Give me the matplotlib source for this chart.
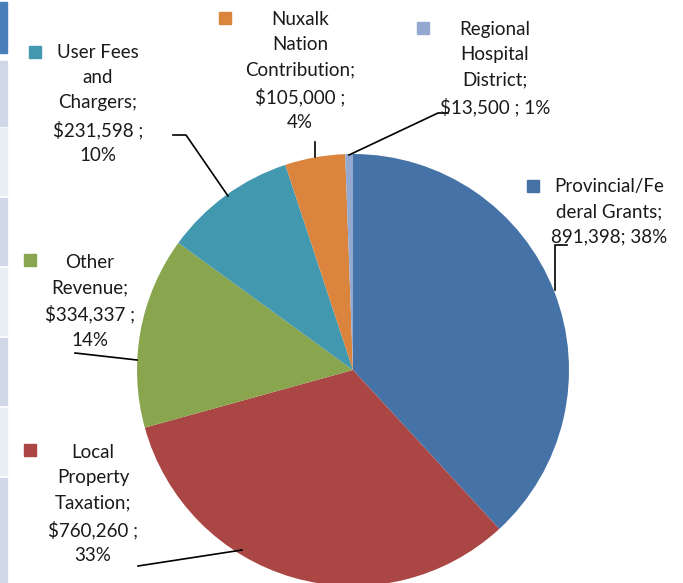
import matplotlib.pyplot as plt
from matplotlib.patches import Rectangle

# revenue sources (clockwise from top)
labels = ["Provincial/Fe\nderal Grants;\n891,398; 38%",
          "Local\nProperty\nTaxation;\n$760,260 ;\n33%",
          "Other\nRevenue;\n$334,337 ;\n14%",
          "User Fees\nand\nChargers;\n$231,598 ;\n10%",
          "Nuxalk\nNation\nContribution;\n$105,000 ;\n4%",
          "Regional\nHospital\nDistrict;\n$13,500 ; 1%"]
values = [891398, 760260, 334337, 231598, 105000, 13500]
colors = ["#4572A7", "#AA4643", "#89A54E", "#4198AF", "#DB843D", "#93A9CF"]

H = 583
plt.rcParams['font.family'] = ['Lato', 'DejaVu Sans']

fig = plt.figure(figsize=(6.83, 5.83), dpi=100)
ax = fig.add_axes([0, 0, 1, 1])

ax.pie(values, colors=colors, startangle=90, counterclock=False,
       center=(353, H - 370), radius=216, frame=True,
       wedgeprops=dict(linewidth=0))
ax.set_xlim(0, 683)
ax.set_ylim(0, H)
ax.set_aspect('equal')
ax.axis('off')

# strip of table cells on the left edge
cells = [(2, 53, "#4A7EBB"), (61, 126, "#D0D8E8"), (128, 195, "#E9EDF4"),
         (198, 265, "#D0D8E8"), (268, 335, "#E9EDF4"), (338, 405, "#D0D8E8"),
         (408, 475, "#E9EDF4"), (478, 590, "#D0D8E8")]
for y0, y1, c in cells:
    ax.add_patch(Rectangle((0, H - y1), 7, y1 - y0, color=c, zorder=0))

# label blocks: (text centre x, first line y, marker x, marker y)
pos = [(609, 186, 533, 186),
       (93, 452, 30, 450),
       (90, 262, 30, 260),
       (98, 52, 35, 52),
       (300, 19, 225, 18),
       (495, 29, 423, 28)]
for lab, (tx, ty, mx, my), c in zip(labels, pos, colors):
    ax.text(tx, H - ty + 8, lab, ha='center', va='top', fontsize=13.5,
            linespacing=1.58, color='#1a1a1a')
    ax.add_patch(Rectangle((mx - 6, H - my - 6), 12, 12, color=c))

# leader lines
leaders = [[(567, 245), (555, 245), (555, 290)],
           [(138, 566), (242, 550)],
           [(75, 353), (137, 360)],
           [(173, 135), (186, 135), (228, 196)],
           [(315, 142), (315, 157)],
           [(448, 113), (438, 113), (349, 155)]]
for pts in leaders:
    xs = [p[0] for p in pts]
    ys = [H - p[1] for p in pts]
    ax.plot(xs, ys, color='black', lw=1.2)

fig.savefig("out.png", dpi=100)
